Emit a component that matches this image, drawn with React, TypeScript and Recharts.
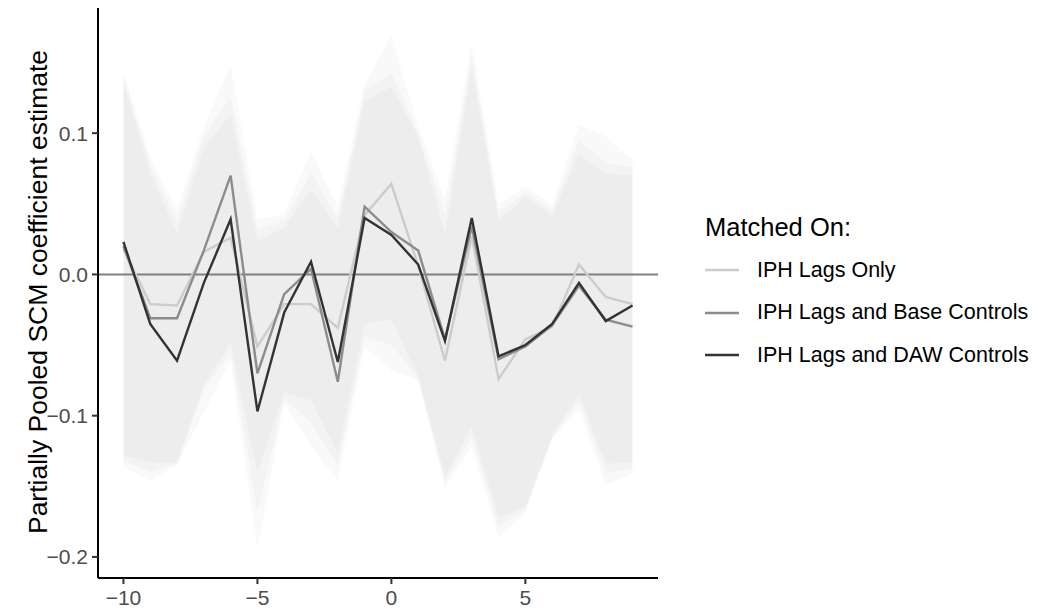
import { ComposedChart, Area, Line, XAxis, YAxis, ReferenceLine, Legend } from 'recharts';

const FONT = '"Liberation Sans", Arial, Helvetica, sans-serif';

// event time
const T = [-10, -9, -8, -7, -6, -5, -4, -3, -2, -1, 0, 1, 2, 3, 4, 5, 6, 7, 8, 9];

// point estimates
const LAGS_ONLY = [0.018, -0.021, -0.022, 0.016, 0.026, -0.051, -0.021, -0.021, -0.038, 0.042, 0.064, 0.006, -0.061, 0.027, -0.074, -0.046, -0.037, 0.007, -0.016, -0.021];
const BASE_CTRL = [0.02, -0.031, -0.031, 0.017, 0.07, -0.07, -0.014, 0.004, -0.076, 0.048, 0.03, 0.017, -0.046, 0.034, -0.06, -0.051, -0.036, -0.008, -0.032, -0.037];
const DAW_CTRL = [0.023, -0.035, -0.061, -0.006, 0.039, -0.097, -0.027, 0.009, -0.062, 0.04, 0.028, 0.007, -0.047, 0.04, -0.058, -0.05, -0.035, -0.006, -0.033, -0.022];

// interval bounds
const LAGS_ONLY_HI = [0.143, 0.083, 0.046, 0.105, 0.148, 0.039, 0.043, 0.087, 0.048, 0.135, 0.169, 0.105, 0.053, 0.164, 0.05, 0.062, 0.049, 0.106, 0.098, 0.081];
const LAGS_ONLY_LO = [-0.136, -0.146, -0.135, -0.098, -0.061, -0.195, -0.091, -0.122, -0.146, -0.051, -0.068, -0.075, -0.151, -0.122, -0.186, -0.169, -0.116, -0.096, -0.149, -0.141];
const BASE_CTRL_HI = [0.14, 0.078, 0.038, 0.098, 0.126, 0.032, 0.038, 0.072, 0.04, 0.13, 0.143, 0.1, 0.042, 0.155, 0.044, 0.058, 0.045, 0.095, 0.079, 0.076];
const BASE_CTRL_LO = [-0.132, -0.14, -0.134, -0.082, -0.055, -0.169, -0.088, -0.105, -0.136, -0.045, -0.05, -0.074, -0.147, -0.115, -0.179, -0.167, -0.116, -0.09, -0.141, -0.137];
const DAW_CTRL_HI = [0.136, 0.072, 0.029, 0.09, 0.113, 0.024, 0.033, 0.06, 0.033, 0.123, 0.133, 0.098, 0.029, 0.147, 0.038, 0.055, 0.042, 0.085, 0.072, 0.07];
const DAW_CTRL_LO = [-0.128, -0.133, -0.133, -0.078, -0.049, -0.141, -0.084, -0.089, -0.127, -0.035, -0.032, -0.072, -0.143, -0.108, -0.172, -0.165, -0.114, -0.085, -0.134, -0.133];

const X_TICKS = [-10, -5, 0, 5];
const Y_TICKS = [-0.2, -0.1, 0, 0.1];

const SERIES = [
  { key: 'lags', name: 'IPH Lags Only', color: '#cccccc' },
  { key: 'base', name: 'IPH Lags and Base Controls', color: '#8c8c8c' },
  { key: 'daw', name: 'IPH Lags and DAW Controls', color: '#333333' },
];

const data = T.map((t, i) => ({
  t,
  lags: LAGS_ONLY[i],
  base: BASE_CTRL[i],
  daw: DAW_CTRL[i],
  lagsBand: [LAGS_ONLY_LO[i], LAGS_ONLY_HI[i]],
  baseBand: [BASE_CTRL_LO[i], BASE_CTRL_HI[i]],
  dawBand: [DAW_CTRL_LO[i], DAW_CTRL_HI[i]],
}));

const fmt = (v: number, digits: number) => {
  const s = Math.abs(v).toFixed(digits);
  return v < 0 ? '\u2212' + s : s;
};

const tickStyle = { fontSize: 21, fill: '#4d4d4d', fontFamily: FONT };

const renderLegend = () => (
  <div style={{ fontFamily: FONT, color: '#000' }}>
    <div style={{ fontSize: 25.5, lineHeight: '30px', height: 30, marginBottom: 6.75 }}>Matched On:</div>
    {SERIES.map((s) => (
      <div key={s.key} style={{ display: 'flex', alignItems: 'center', height: 42.5 }}>
        <svg width={34} height={4} style={{ display: 'block' }}>
          <line x1={0} y1={2} x2={34} y2={2} stroke={s.color} strokeWidth={2.4} />
        </svg>
        <span style={{ marginLeft: 18, fontSize: 21.5, whiteSpace: 'nowrap' }}>{s.name}</span>
      </div>
    ))}
  </div>
);

export default function App() {
  return (
    <div style={{ position: 'absolute', left: 0, top: 0, background: '#fff' }}>
      <ComposedChart width={1037} height={611} data={data} margin={{ top: 8, right: 379, bottom: 0, left: 0 }}>
        <XAxis
          dataKey="t"
          type="number"
          domain={[-10.95, 9.95]}
          ticks={X_TICKS}
          tickFormatter={(v) => fmt(v, 0)}
          tick={tickStyle}
          tickSize={6}
          tickMargin={6}
          height={33}
          axisLine={{ stroke: '#000', strokeWidth: 2 }}
          tickLine={{ stroke: '#333', strokeWidth: 2 }}
          allowDataOverflow
        />
        <YAxis
          type="number"
          domain={[-0.2149, 0.1886]}
          ticks={Y_TICKS}
          tickFormatter={(v) => fmt(v, 1)}
          tick={tickStyle}
          tickSize={6}
          tickMargin={4}
          width={98}
          axisLine={{ stroke: '#000', strokeWidth: 2 }}
          tickLine={{ stroke: '#333', strokeWidth: 2 }}
          allowDataOverflow
          label={{
            content: () => (
              <text
                x={38}
                y={292}
                transform="rotate(-90 38 292)"
                textAnchor="middle"
                dominantBaseline="central"
                fontSize={26.5}
                fontFamily={FONT}
                fill="#000"
              >
                Partially Pooled SCM coefficient estimate
              </text>
            ),
          }}
        />
        <Area dataKey="lagsBand" type="linear" stroke="none" fill="#000" fillOpacity={0.022} isAnimationActive={false} dot={false} activeDot={false} legendType="none" />
        <Area dataKey="baseBand" type="linear" stroke="none" fill="#000" fillOpacity={0.022} isAnimationActive={false} dot={false} activeDot={false} legendType="none" />
        <Area dataKey="dawBand" type="linear" stroke="none" fill="#000" fillOpacity={0.022} isAnimationActive={false} dot={false} activeDot={false} legendType="none" />
        <ReferenceLine y={0} stroke="#808080" strokeWidth={2} />
        {SERIES.map((s) => (
          <Line
            key={s.key}
            dataKey={s.key}
            name={s.name}
            type="linear"
            stroke={s.color}
            strokeWidth={2.4}
            dot={false}
            activeDot={false}
            isAnimationActive={false}
          />
        ))}
        <Legend
          layout="horizontal"
          verticalAlign="middle"
          align="center"
          content={renderLegend}
          wrapperStyle={{ left: 705, top: 212, width: 330 }}
        />
      </ComposedChart>
    </div>
  );
}
